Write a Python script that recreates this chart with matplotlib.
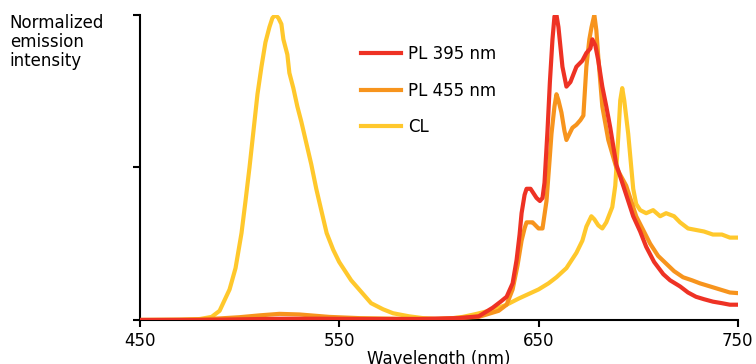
import numpy as np
import matplotlib
matplotlib.use('Agg')
import matplotlib.pyplot as plt

# spectra (wavelength in nm, normalized intensity)
wl_cl = [450, 470, 480, 486, 490, 495, 498, 501, 503, 505, 507, 509, 511, 513, 515, 516.5, 518, 519.5, 521,
         522, 524, 525, 527, 529, 531, 533.5, 536, 538.5, 541, 543.7, 547, 550, 553, 556, 560, 566, 572, 577,
         585, 592, 598, 605, 612, 619, 627, 634, 640, 646, 650, 655, 659, 664, 669, 672, 674, 676.5, 678,
         680, 682, 684, 687, 688.5, 690, 691, 692, 693, 695, 697.5, 699, 701, 704, 707.5, 711, 714, 718, 721,
         725, 729, 733, 737.5, 742, 746, 750]
cl = [0.0, 0.0, 0.003, 0.01, 0.03, 0.1, 0.17, 0.285, 0.39, 0.50, 0.62, 0.74, 0.83, 0.91, 0.96, 0.99, 1.0, 0.99, 0.97,
      0.92, 0.87, 0.81, 0.76, 0.70, 0.65, 0.58, 0.51, 0.43, 0.36, 0.285, 0.23, 0.19, 0.16, 0.13, 0.10, 0.055, 0.035, 0.022,
      0.012, 0.006, 0.003, 0.004, 0.01, 0.02, 0.033, 0.05, 0.07, 0.088, 0.1, 0.12, 0.14, 0.17, 0.22, 0.26, 0.306, 0.34, 0.33,
      0.31, 0.30, 0.32, 0.37, 0.44, 0.60, 0.72, 0.76, 0.72, 0.61, 0.43, 0.38, 0.36, 0.35, 0.36, 0.34, 0.35, 0.34, 0.32,
      0.30, 0.295, 0.29, 0.28, 0.28, 0.27, 0.27]

wl_395 = [450, 480, 500, 520, 540, 560, 590, 610, 620, 627, 631, 634, 637, 639, 640.5, 641.5, 643, 644, 646, 647,
          649, 650.7, 652, 653, 654.5, 655.7, 657, 658, 659, 660, 662, 664, 666, 669, 672, 674, 676, 677, 678.5, 680,
          682, 684, 686, 689, 692.5, 695, 697.5, 701, 704, 708, 712.6, 716, 721, 725, 729, 733, 737.5, 742, 746, 750]
pl395 = [0.0, 0.0, 0.002, 0.004, 0.004, 0.003, 0.003, 0.006, 0.012, 0.04, 0.06, 0.076, 0.12, 0.197, 0.28, 0.35, 0.41, 0.43,
         0.43, 0.42, 0.40, 0.39, 0.40, 0.45, 0.62, 0.78, 0.92, 0.995, 1.0, 0.96, 0.83, 0.765, 0.78, 0.83, 0.85, 0.875, 0.89,
         0.92, 0.90, 0.85, 0.765, 0.70, 0.63, 0.51, 0.44, 0.39, 0.34, 0.29, 0.24, 0.19, 0.15, 0.13, 0.11, 0.09, 0.076, 0.068,
         0.06, 0.055, 0.05, 0.05]

wl_455 = [450, 480, 490, 500, 510, 520, 530, 545, 560, 580, 600, 620, 630, 634, 637, 639.5, 641.5, 643, 644, 646, 647,
          650, 652, 654, 655.5, 656.5, 658, 659, 660, 661.5, 663, 664, 667, 669, 671, 672.5, 674, 675.5, 676.6, 678,
          679, 680, 682, 685, 689, 694, 699, 706, 710, 714, 718, 722.5, 727, 731, 736, 741, 746, 750]
pl455 = [0.0, 0.002, 0.005, 0.009, 0.015, 0.02, 0.018, 0.01, 0.006, 0.004, 0.004, 0.01, 0.03, 0.05, 0.1, 0.18, 0.26, 0.3,
         0.32, 0.32, 0.32, 0.30, 0.30, 0.39, 0.52, 0.61, 0.70, 0.74, 0.72, 0.68, 0.62, 0.59, 0.63, 0.64, 0.655, 0.67, 0.83,
         0.92, 0.96, 1.0, 0.95, 0.86, 0.70, 0.59, 0.5, 0.44, 0.34, 0.25, 0.21, 0.185, 0.16, 0.14, 0.13, 0.12, 0.11, 0.10,
         0.09, 0.088]

labels = ['PL 395 nm', 'PL 455 nm', 'CL']
colors = ['#EE3224', '#F7941D', '#FFC82C']
xticks = [450, 550, 650, 750]
yticks = [0, 0.5, 1]

plt.rcParams['font.family'] = 'DejaVu Sans'
plt.rcParams['font.size'] = 12

fig = plt.figure(figsize=(7.56, 3.64), dpi=100)
ax = fig.add_axes([0.185, 0.121, 0.791, 0.838])

# draw CL first so the PL traces sit on top like in the original
ax.plot(wl_cl, cl, color=colors[2], lw=3, label=labels[2], zorder=2)
ax.plot(wl_455, pl455, color=colors[1], lw=3, label=labels[1], zorder=3)
ax.plot(wl_395, pl395, color=colors[0], lw=3, label=labels[0], zorder=3)

ax.set_xlim(450, 750)
ax.set_ylim(0, 1)
ax.set_xticks(xticks)
ax.set_yticks(yticks)
ax.set_yticklabels([])
ax.tick_params(direction='out', length=5, width=1.5, labelsize=12)
for s in ['top', 'right']:
    ax.spines[s].set_visible(False)
for s in ['left', 'bottom']:
    ax.spines[s].set_linewidth(1.5)

ax.set_xlabel('Wavelength (nm)', fontsize=12, labelpad=0)
fig.text(0.013, 0.962, 'Normalized\nemission\nintensity', ha='left', va='top',
         fontsize=12, linespacing=1.07)

h, l = ax.get_legend_handles_labels()
order = [2, 1, 0]
ax.legend([h[i] for i in order], [l[i] for i in order], loc='upper left',
          bbox_to_anchor=(0.345, 0.95), frameon=False, handlelength=2.4,
          handletextpad=0.4, labelspacing=1.1, fontsize=12)

fig.savefig('out.png', dpi=100)
